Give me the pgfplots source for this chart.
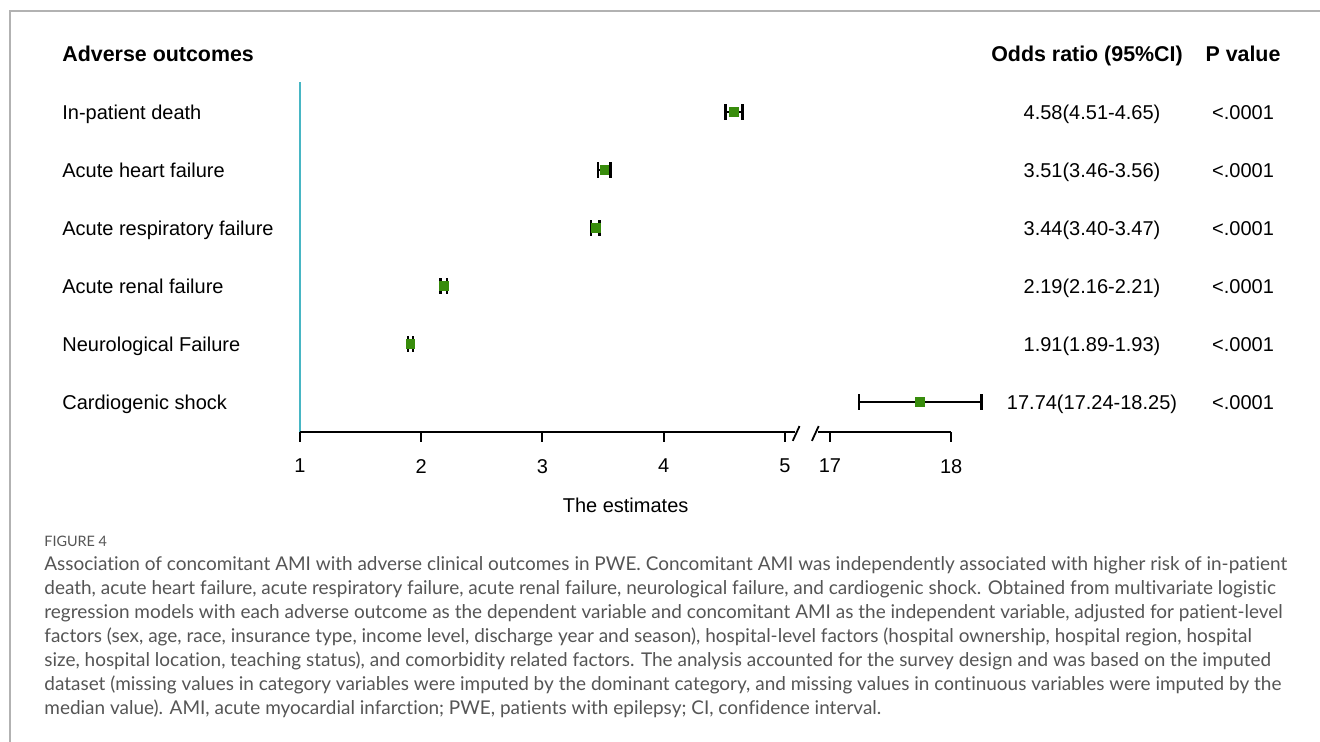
\documentclass[border=0pt]{standalone}
\usepackage{pgfplots}
\usepackage{pgfplotstable}
\pgfplotsset{compat=1.18}
\usepackage{fontspec}
\setmainfont{Liberation Sans}
\newfontfamily\capfont[Ligatures=NoCommon]{Lato}
\definecolor{tealline}{RGB}{72,182,196}
\definecolor{mkgreen}{RGB}{56,140,12}
\definecolor{capgray}{RGB}{85,85,85}
\definecolor{framegray}{RGB}{178,178,178}

\pgfplotstableread{
y or lo hi
6 4.58 4.51 4.65
5 3.51 3.46 3.56
4 3.44 3.40 3.47
3 2.19 2.16 2.21
2 1.91 1.89 1.93
}\lowtab
\pgfplotstableread{
y or lo hi
1 17.74 17.24 18.25
}\hightab

\begin{document}
\begin{tikzpicture}
\begin{scope}[x=0.5pt,y=0.5pt]
\useasboundingbox (0,0) rectangle (1320,742);
\draw[framegray, line width=1pt] (9.5,0) -- (9.5,731) -- (1320,731);

% headers
\begin{scope}[every node/.style={inner sep=0, font=\fontsize{10.7}{12}\selectfont\bfseries}]
\node[anchor=base west] at (62,680) {Adverse outcomes};
\node[anchor=base] at (1087,680) {Odds ratio (95\%CI)};
\node[anchor=base] at (1243,680) {P value};
\end{scope}

% row text
\begin{scope}[every node/.style={inner sep=0, font=\fontsize{10}{12}\selectfont}]
\foreach \lab/\orv [count=\i from 0] in {In-patient death/4.58(4.51-4.65),
  Acute heart failure/3.51(3.46-3.56),
  Acute respiratory failure/3.44(3.40-3.47),
  Acute renal failure/2.19(2.16-2.21),
  Neurological Failure/1.91(1.89-1.93),
  Cardiogenic shock/17.74(17.24-18.25)}{
  \node[anchor=base west] at (62,{622-58*\i}) {\lab};
  \node[anchor=base] at (1092,{622-58*\i}) {\orv};
  \node[anchor=base] at (1243,{622-58*\i}) {<.0001};
}
\end{scope}

% caption
\begin{scope}[every node/.style={inner sep=0, anchor=base west, text=capgray, font=\capfont\fontsize{9.48}{12}\selectfont}]
\node[font=\capfont\fontsize{7.2}{9}\selectfont] at (44,195) {FIGURE 4};
\node at (44,171) {Association of concomitant AMI with adverse clinical outcomes in PWE. Concomitant AMI was independently associated with higher risk of in-patient};
\node at (44,147) {death, acute heart failure, acute respiratory failure, acute renal failure, neurological failure, and cardiogenic shock. Obtained from multivariate logistic};
\node at (44,123) {regression models with each adverse outcome as the dependent variable and concomitant AMI as the independent variable, adjusted for patient-level};
\node at (44,99) {factors (sex, age, race, insurance type, income level, discharge year and season), hospital-level factors (hospital ownership, hospital region, hospital};
\node at (44,75) {size, hospital location, teaching status), and comorbidity related factors. The analysis accounted for the survey design and was based on the imputed};
\node at (44,51) {dataset (missing values in category variables were imputed by the dominant category, and missing values in continuous variables were imputed by the};
\node at (44,27) {median value). AMI, acute myocardial infarction; PWE, patients with epilepsy; CI, confidence interval.};
\end{scope}
\end{scope}

\begin{axis}[
  at={(150pt,155pt)}, anchor=south west,
  width=325.6pt, height=175pt, scale only axis,
  xmin=1, xmax=6.371, ymin=0.483, ymax=6.517,
  clip=false,
  axis line style={draw=none},
  ytick=\empty,
  xtick={1,2,3,4,5,5.371,6.371},
  xticklabels={1,2,3,4,5,17,18},
  xtick pos=bottom,
  xtick align=outside,
  major tick length=5pt,
  x tick style={black, line width=1pt},
  x tick label style={font=\fontsize{10}{12}\selectfont, yshift=-5pt},
  xlabel={The estimates},
  xlabel style={font=\fontsize{10}{12}\selectfont, yshift=-5.5pt},
]
\draw[tealline, line width=1pt] (axis cs:1,0.483) -- (axis cs:1,6.517);
\draw[black, line width=1pt] (axis cs:1,0.483) -- (axis cs:5.08,0.483);
\draw[black, line width=1pt] (axis cs:5.272,0.483) -- (axis cs:6.371,0.483);
\draw[black, line width=0.9pt] (axis cs:5.064,0.33) -- (axis cs:5.12,0.585);
\draw[black, line width=0.9pt] (axis cs:5.222,0.33) -- (axis cs:5.278,0.585);

\addplot[only marks, mark=square*, mark size=2.2pt, mark options={draw=mkgreen, fill=mkgreen},
  error bars/.cd, x dir=both, x explicit,
  error bar style={black, line width=1.2pt},
  error mark options={black, line width=1.2pt, mark size=3.8pt, rotate=90}]
  table[x=or, y=y, x error plus expr=\thisrow{hi}-\thisrow{or}, x error minus expr=\thisrow{or}-\thisrow{lo}] {\lowtab};
\addplot[only marks, mark=square*, mark size=2.2pt, mark options={draw=mkgreen, fill=mkgreen},
  error bars/.cd, x dir=both, x explicit,
  error bar style={black, line width=1.2pt},
  error mark options={black, line width=1.2pt, mark size=3.8pt, rotate=90}]
  table[x expr=\thisrow{or}-11.629, y=y, x error plus expr=\thisrow{hi}-\thisrow{or}, x error minus expr=\thisrow{or}-\thisrow{lo}] {\hightab};
\end{axis}
\end{tikzpicture}
\end{document}
